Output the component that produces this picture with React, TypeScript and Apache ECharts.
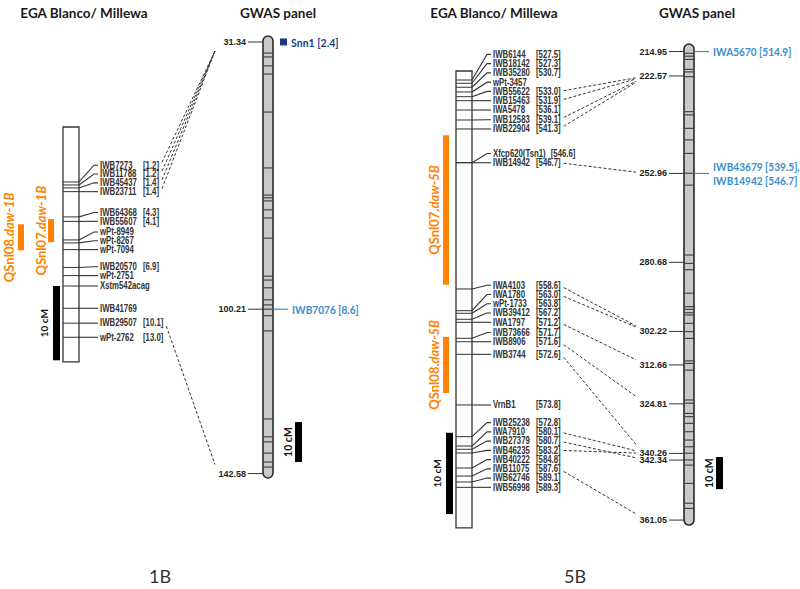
import React, { useEffect, useRef } from 'react';
import * as echarts from 'echarts';

// ================= DATA =================
// 1B – EGA Blanco / Millewa genetic map (cM from the top of the map)
const map1bMarkers = ['IWB7273', 'IWB11788', 'IWB45437', 'IWB23711', 'IWB64368', 'IWB55607', 'wPt-8949', 'wPt-8267', 'wPt-7094', 'IWB20570', 'wPt-2751', 'Xstm542acag', 'IWB41769', 'IWB29507', 'wPt-2762'];
const map1bPhysical = ['[1.2]', '[1.2]', '[1.4]', '[1.4]', '[4.3]', '[4.1]', '', '', '', '[6.9]', '', '', '', '[10.1]', '[13.0]'];
const map1bPositions = [7.4, 7.8, 8.2, 8.7, 12.1, 12.7, 15.2, 15.6, 16.5, 18.9, 20.0, 21.4, 24.4, 26.4, 28.3];
const map1bLength = 31.6;
const map1bQtlNames = [['QSnl08.', 'daw-1B'], ['QSnl07.', 'daw-1B']];
const map1bQtlIntervals = [[13.1, 16.6], [12.4, 15.5]];
const map1bScaleBar = [21.4, 31.4];

// 1B – GWAS panel (cM)
const gwas1bRange = [29.8, 143.7];
const gwas1bTicks = [31.34, 100.21, 142.58];
const gwas1bBands = [34.2, 35.2, 37.5, 39.6, 49.4, 63.8, 70.8, 71.5, 72.3, 74.6, 76.7, 81.9, 91.7, 92.7, 94.7, 97.8, 99.1, 100.2, 101.9, 105.8, 128.5, 133.1, 134.4, 137.3, 139.6, 140.9];
const gwas1bHits = ['Snn1 [2.4]', 'IWB7076 [8.6]'];
const gwas1bHitPositions = [31.34, 100.21];
const gwas1bScaleBar = [129.3, 139.6];
const links1bFrom = ['IWB7273', 'IWB11788', 'IWB45437', 'IWB23711', 'IWB29507'];
const links1bTo = [31.34, 31.34, 31.34, 31.34, 142.58];

// 5B – EGA Blanco / Millewa genetic map (cM from the top of the map)
const map5bMarkers = ['IWB6144', 'IWB18142', 'IWB35280', 'wPt-3457', 'IWB55622', 'IWB15463', 'IWA5478', 'IWB12583', 'IWB22904', 'Xfcp620(Tsn1)', 'IWB14942', 'IWA4103', 'IWA1780', 'wPt-1733', 'IWB39412', 'IWA1797', 'IWB73666', 'IWB8906', 'IWB3744', 'VrnB1', 'IWB25238', 'IWA7910', 'IWB27379', 'IWB46235', 'IWB40222', 'IWB11075', 'IWB62746', 'IWB56998'];
const map5bPhysical = ['[527.5]', '[527.3]', '[530.7]', '', '[533.0]', '[531.9]', '[536.1]', '[539.1]', '[541.3]', '[546.6]', '[546.7]', '[558.6]', '[563.0]', '[563.8]', '[567.2]', '[571.2]', '[571.7]', '[571.6]', '[572.6]', '[573.8]', '[572.8]', '[580.1]', '[580.7]', '[583.2]', '[584.8]', '[587.6]', '[589.1]', '[589.3]'];
const map5bPositions = [1.11, 1.51, 2.0, 2.58, 3.16, 3.65, 4.8, 6.03, 7.13, 11.28, 11.28, 26.81, 29.48, 29.8, 30.54, 30.91, 32.88, 33.3, 34.85, 41.08, 44.98, 46.13, 46.53, 46.99, 48.83, 49.82, 50.55, 51.21];
const map5bLength = 56.2;
const map5bQtlNames = [['QSnl07.', 'daw-5B'], ['QSnl08.', 'daw-5B']];
const map5bQtlIntervals = [[7.9, 26.3], [32.7, 39.6]];
const map5bScaleBar = [44.5, 54.5];

// 5B – GWAS panel (cM)
const gwas5bRange = [212.6, 362.6];
const gwas5bTicks = [214.95, 222.57, 252.96, 280.68, 302.22, 312.66, 324.81, 340.26, 342.34, 361.05];
const gwas5bBands = [215.5, 216.4, 217.4, 220.5, 221.3, 222.8, 233.7, 234.7, 238.9, 242.5, 246.7, 252.9, 256.6, 278.4, 281.0, 283.0, 290.3, 294.5, 295.3, 296.4, 297.1, 299.7, 302.3, 304.4, 311.4, 312.2, 314.3, 323.6, 324.6, 327.8, 328.8, 330.9, 333.5, 336.1, 338.2, 340.2, 342.3, 343.9, 349.6, 355.8, 357.4];
const gwas5bHits = ['IWA5670 [514.9]', 'IWB43679 [539.5],\nIWB14942 [546.7]'];
const gwas5bHitPositions = [214.95, 252.96];
const gwas5bScaleBar = [341.4, 351.4];
const links5bFrom = ['IWB55622', 'IWB15463', 'IWB12583', 'IWB22904', 'IWB14942', 'IWA4103', 'IWA1780', 'IWA1797', 'IWB8906', 'IWB3744', 'IWA7910', 'IWB46235', 'IWB27379', 'IWB11075'];
const links5bTo = [222.57, 222.57, 222.57, 222.57, 252.96, 302.22, 302.22, 312.66, 324.81, 340.26, 340.26, 340.26, 342.34, 361.05];

// ================= STYLE / LAYOUT =================
const LABEL_FONT = 'bold 10px "Liberation Sans", Arial, sans-serif';
const LABEL_SX = 0.78;
const TICK_FONT = 'bold 9px "Liberation Sans", Arial, sans-serif';
const INK = '#333333';
const LABEL_INK = '#333333';
const ORANGE = '#FF8200';
const BLUE = '#3A8DD0';
const NAVY = '#1B3A80';
const HEAD_FONT = 'bold 13.5px Lato, "Open Sans", sans-serif';
const HIT_SX = 0.88;

const layout = {
  map1b: { left: 63, top: 127, width: 16, pxPerCM: 7.43, gap: 8.8, qtlBarDx: [-45, -15], qtlTextDx: [-54, -22] },
  gwas1b: { left: 263, top: 36, width: 10, pxPerCM: 3.88 },
  map5b: { left: 456, top: 71, width: 16, pxPerCM: 8.13, gap: 9.25, qtlBarDx: [-13, -13], qtlTextDx: [-22, -22] },
  gwas5b: { left: 684, top: 44, width: 10, pxPerCM: 3.207 },
};

let ctx2d: CanvasRenderingContext2D | null = null;
function textWidth(s: string, font: string): number {
  if (!ctx2d) ctx2d = document.createElement('canvas').getContext('2d');
  ctx2d!.font = font;
  return ctx2d!.measureText(s).width;
}

function stackLabels(ys: number[], gap: number): number[] {
  const out = ys.slice();
  for (let i = out.length - 2; i >= 0; i--) out[i] = Math.min(ys[i], out[i + 1] - gap);
  return out;
}

type MapPanel = {
  grid: number; names: string[]; phys: string[]; pos: number[]; length: number;
  qtlNames: string[][]; qtl: number[][]; bar: number[];
  lay: { left: number; top: number; width: number; pxPerCM: number; gap: number; qtlBarDx: number[]; qtlTextDx: number[] };
};

function mapLabels(ys: number[], names: string[], phys: string[], boxRight: number, gap: number) {
  const ly = stackLabels(ys, gap);
  return ys.map((y, i) => {
    const nameX = boxRight + 21;
    const nameW = textWidth(names[i], LABEL_FONT) * LABEL_SX;
    const bracketX = Math.max(nameX + 43, nameX + nameW + 5);
    const bw = phys[i] ? textWidth(phys[i], LABEL_FONT) * LABEL_SX : 0;
    return { y, ly: ly[i], nameX, bracketX, endX: phys[i] ? bracketX + bw : nameX + nameW };
  });
}

function rotatedText(x: number, y: number, text: string, font: string, fill: string, rich?: any) {
  return {
    type: 'text', x, y, rotation: Math.PI / 2,
    style: { text, font, fill, textAlign: 'center', textVerticalAlign: 'middle', rich },
  };
}

function mapSeries(m: MapPanel): any[] {
  const g = m.grid;
  const base = { type: 'custom', xAxisIndex: g, yAxisIndex: g, silent: true, clip: false };
  return [
    {
      ...base, z: 2, data: [[0, 0]],
      renderItem: (_p: any, api: any) => {
        const a = api.coord([0, 0]);
        const b = api.coord([1, m.length]);
        return { type: 'rect', shape: { x: a[0], y: a[1], width: b[0] - a[0], height: b[1] - a[1] }, style: { fill: '#fff', stroke: INK, lineWidth: 1.3 } };
      },
    },
    {
      ...base, z: 3, data: m.pos.map((v) => [0, v]),
      renderItem: (p: any, api: any) => {
        const i = p.dataIndex;
        const ys = m.pos.map((v) => api.coord([0, v])[1]);
        const x0 = api.coord([0, 0])[0];
        const x1 = api.coord([1, 0])[0];
        const lab = mapLabels(ys, m.names, m.phys, x1, m.lay.gap)[i];
        const children: any[] = [
          { type: 'line', shape: { x1: x0, y1: lab.y, x2: x1, y2: lab.y }, style: { stroke: INK, lineWidth: 1 } },
          { type: 'polyline', shape: { points: [[x1, lab.y], [x1 + 15, lab.ly], [x1 + 19, lab.ly]] }, style: { stroke: INK, lineWidth: 1.1, fill: 'none' } },
          { type: 'text', x: lab.nameX, y: lab.ly, scaleX: LABEL_SX, style: { text: m.names[i], font: LABEL_FONT, fill: LABEL_INK, textAlign: 'left', textVerticalAlign: 'middle' } },
        ];
        if (m.phys[i]) {
          children.push({ type: 'text', x: lab.bracketX, y: lab.ly, scaleX: LABEL_SX, style: { text: m.phys[i], font: LABEL_FONT, fill: LABEL_INK, textAlign: 'left', textVerticalAlign: 'middle' } });
        }
        return { type: 'group', children };
      },
    },
    {
      ...base, z: 2, data: m.qtl,
      renderItem: (p: any, api: any) => {
        const i = p.dataIndex;
        const x0 = api.coord([0, 0])[0];
        const y0 = api.coord([0, api.value(0)])[1];
        const y1 = api.coord([0, api.value(1)])[1];
        const bx = x0 + m.lay.qtlBarDx[i];
        const rich = {
          a: { fontFamily: 'Lato, "Open Sans", sans-serif', fontSize: 13, fontWeight: 'bold', fill: ORANGE },
          b: { fontFamily: 'Lato, "Open Sans", sans-serif', fontSize: 13, fontWeight: 'bold', fontStyle: 'italic', fill: ORANGE },
        };
        return {
          type: 'group',
          children: [
            { type: 'rect', shape: { x: bx, y: y0, width: 6, height: y1 - y0 }, style: { fill: ORANGE } },
            rotatedText(x0 + m.lay.qtlTextDx[i], (y0 + y1) / 2, `{a|${m.qtlNames[i][0]}}{b|${m.qtlNames[i][1]}}`, 'bold 13px Lato', ORANGE, rich),
          ],
        };
      },
    },
    {
      ...base, z: 2, data: [m.bar],
      renderItem: (_p: any, api: any) => {
        const x0 = api.coord([0, 0])[0];
        const y0 = api.coord([0, api.value(0)])[1];
        const y1 = api.coord([0, api.value(1)])[1];
        return {
          type: 'group',
          children: [
            { type: 'rect', shape: { x: x0 - 10, y: y0, width: 7, height: y1 - y0 }, style: { fill: '#000' } },
            rotatedText(x0 - 19, (y0 + y1) / 2, '10 cM', 'bold 10px Lato, sans-serif', '#111'),
          ],
        };
      },
    },
  ];
}

type GwasPanel = { grid: number; range: number[]; ticks: number[]; bands: number[]; hits: string[]; hitPos: number[]; hitMark: string[]; hitColor: string[]; bar: number[] };

function gwasSeries(w: GwasPanel): any[] {
  const g = w.grid;
  const base = { type: 'custom', xAxisIndex: g, yAxisIndex: g, silent: true, clip: false };
  return [
    {
      ...base, z: 2, data: [[0, w.range[0]]],
      renderItem: (_p: any, api: any) => {
        const a = api.coord([0, w.range[0]]);
        const b = api.coord([1, w.range[1]]);
        return { type: 'rect', shape: { x: a[0], y: a[1], width: b[0] - a[0], height: b[1] - a[1], r: (b[0] - a[0]) / 2 }, style: { fill: '#C9C9C9', stroke: '#2a2a2a', lineWidth: 1.6 } };
      },
    },
    {
      ...base, z: 3, data: w.bands.map((v) => [0, v]),
      renderItem: (_p: any, api: any) => {
        const a = api.coord([0, api.value(1)]);
        const b = api.coord([1, api.value(1)]);
        return { type: 'line', shape: { x1: a[0] + 0.8, y1: a[1], x2: b[0] - 0.8, y2: b[1] }, style: { stroke: '#3a3a3a', lineWidth: 1.1 } };
      },
    },
    {
      ...base, z: 3, data: w.ticks.map((v) => [0, v]),
      renderItem: (_p: any, api: any) => {
        const v = api.value(1);
        const a = api.coord([0, v]);
        return {
          type: 'group',
          children: [
            { type: 'line', shape: { x1: a[0] - 15, y1: a[1], x2: a[0], y2: a[1] }, style: { stroke: INK, lineWidth: 1 } },
            { type: 'text', x: a[0] - 17, y: a[1], style: { text: v.toFixed(2), font: TICK_FONT, fill: '#1e1e1e', textAlign: 'right', textVerticalAlign: 'middle' } },
          ],
        };
      },
    },
    {
      ...base, z: 3, data: w.hitPos.map((v) => [1, v]),
      renderItem: (p: any, api: any) => {
        const i = p.dataIndex;
        const a = api.coord([1, api.value(1)]);
        const color = w.hitColor[i];
        const children: any[] = [];
        if (w.hitMark[i] === 'square') {
          children.push({ type: 'rect', shape: { x: a[0] + 7, y: a[1] - 3.5, width: 7, height: 7 }, style: { fill: color } });
          children.push({ type: 'text', x: a[0] + 18, y: a[1], scaleX: HIT_SX, style: { text: w.hits[i], font: 'bold 12px Lato, sans-serif', fill: color, textAlign: 'left', textVerticalAlign: 'middle' } });
        } else {
          children.push({ type: 'line', shape: { x1: a[0], y1: a[1], x2: a[0] + 15, y2: a[1] }, style: { stroke: color, lineWidth: 1.2 } });
          children.push({ type: 'text', x: a[0] + 19, y: a[1], scaleX: HIT_SX, style: { text: w.hits[i], font: 'bold 11.5px Lato, sans-serif', fill: color, lineHeight: 14, textAlign: 'left', textVerticalAlign: 'middle' } });
        }
        return { type: 'group', children };
      },
    },
    {
      ...base, z: 2, data: [w.bar],
      renderItem: (_p: any, api: any) => {
        const x1 = api.coord([1, 0])[0];
        const y0 = api.coord([1, api.value(0)])[1];
        const y1 = api.coord([1, api.value(1)])[1];
        return {
          type: 'group',
          children: [
            { type: 'rect', shape: { x: x1 + 22, y: y0, width: 7, height: y1 - y0 }, style: { fill: '#000' } },
            rotatedText(x1 + 14.5, (y0 + y1) / 2, '10 cM', 'bold 10.5px Lato, sans-serif', '#111'),
          ],
        };
      },
    },
  ];
}

const map1b: MapPanel = { grid: 0, names: map1bMarkers, phys: map1bPhysical, pos: map1bPositions, length: map1bLength, qtlNames: map1bQtlNames, qtl: map1bQtlIntervals, bar: map1bScaleBar, lay: layout.map1b };
const map5b: MapPanel = { grid: 2, names: map5bMarkers, phys: map5bPhysical, pos: map5bPositions, length: map5bLength, qtlNames: map5bQtlNames, qtl: map5bQtlIntervals, bar: map5bScaleBar, lay: layout.map5b };
const gwas1b: GwasPanel = { grid: 1, range: gwas1bRange, ticks: gwas1bTicks, bands: gwas1bBands, hits: gwas1bHits, hitPos: gwas1bHitPositions, hitMark: ['square', 'line'], hitColor: [NAVY, BLUE], bar: gwas1bScaleBar };
const gwas5b: GwasPanel = { grid: 3, range: gwas5bRange, ticks: gwas5bTicks, bands: gwas5bBands, hits: gwas5bHits, hitPos: gwas5bHitPositions, hitMark: ['line', 'line'], hitColor: [BLUE, BLUE], bar: gwas5bScaleBar };

function buildOption(): any {
  const grids = [
    { left: layout.map1b.left, top: layout.map1b.top, width: layout.map1b.width, height: map1bLength * layout.map1b.pxPerCM },
    { left: layout.gwas1b.left, top: layout.gwas1b.top, width: layout.gwas1b.width, height: (gwas1bRange[1] - gwas1bRange[0]) * layout.gwas1b.pxPerCM },
    { left: layout.map5b.left, top: layout.map5b.top, width: layout.map5b.width, height: map5bLength * layout.map5b.pxPerCM },
    { left: layout.gwas5b.left, top: layout.gwas5b.top, width: layout.gwas5b.width, height: (gwas5bRange[1] - gwas5bRange[0]) * layout.gwas5b.pxPerCM },
  ];
  const yRanges = [[0, map1bLength], gwas1bRange, [0, map5bLength], gwas5bRange];
  return {
    animation: false,
    backgroundColor: '#ffffff',
    grid: grids.map((gr) => ({ ...gr, containLabel: false, show: false })),
    xAxis: grids.map((_g, i) => ({ type: 'value', gridIndex: i, min: 0, max: 1, show: false })),
    yAxis: yRanges.map((r, i) => ({ type: 'value', gridIndex: i, min: r[0], max: r[1], inverse: true, show: false })),
    series: [...mapSeries(map1b), ...gwasSeries(gwas1b), ...mapSeries(map5b), ...gwasSeries(gwas5b)],
  };
}

function linkElements(chart: any, m: MapPanel, gwasGrid: number, from: string[], to: number[]): any[] {
  const px = (g: number, x: number, y: number) => chart.convertToPixel({ gridIndex: g }, [x, y]) as number[];
  const ys = m.pos.map((v) => px(m.grid, 0, v)[1]);
  const boxRight = px(m.grid, 1, 0)[0];
  const labs = mapLabels(ys, m.names, m.phys, boxRight, m.lay.gap);
  return from.map((name, k) => {
    const lab = labs[m.names.indexOf(name)];
    const p = px(gwasGrid, 0, to[k]);
    const d = p[1] - lab.ly;
    const sx = lab.endX + 3;
    const sy = lab.ly + Math.sign(d) * Math.min(Math.abs(d) * 0.05, 3);
    const ex = p[0] - 48;
    const ey = p[1] - Math.sign(d) * Math.min(Math.abs(d) * 0.12, 9);
    return { type: 'line', silent: true, shape: { x1: sx, y1: sy, x2: ex, y2: ey }, style: { stroke: '#333', lineWidth: 1, lineDash: [3, 2] } };
  });
}

function headText(x: number, y: number, text: string, font: string, fill: string) {
  return { type: 'text', x, y, silent: true, style: { text, font, fill, textAlign: 'center', textVerticalAlign: 'middle' } };
}

export default function App() {
  const ref = useRef<HTMLDivElement>(null);
  useEffect(() => {
    document.body.style.margin = '0';
    const chart = echarts.init(ref.current!, null, { renderer: 'svg' });
    chart.setOption(buildOption());
    const elements = [
      headText(84, 13, 'EGA Blanco/ Millewa', HEAD_FONT, '#1a1a1a'),
      headText(278, 13, 'GWAS panel', HEAD_FONT, '#1a1a1a'),
      headText(494, 13, 'EGA Blanco/ Millewa', HEAD_FONT, '#1a1a1a'),
      headText(697, 13, 'GWAS panel', HEAD_FONT, '#1a1a1a'),
      headText(160, 576, '1B', '18px Lato, "Open Sans", sans-serif', '#333'),
      headText(575, 576, '5B', '18px Lato, "Open Sans", sans-serif', '#333'),
      ...linkElements(chart, map1b, 1, links1bFrom, links1bTo),
      ...linkElements(chart, map5b, 3, links5bFrom, links5bTo),
    ];
    chart.setOption({ graphic: { elements } });
    return () => chart.dispose();
  }, []);
  return <div ref={ref} style={{ width: 800, height: 589, background: '#fff' }} />;
}
